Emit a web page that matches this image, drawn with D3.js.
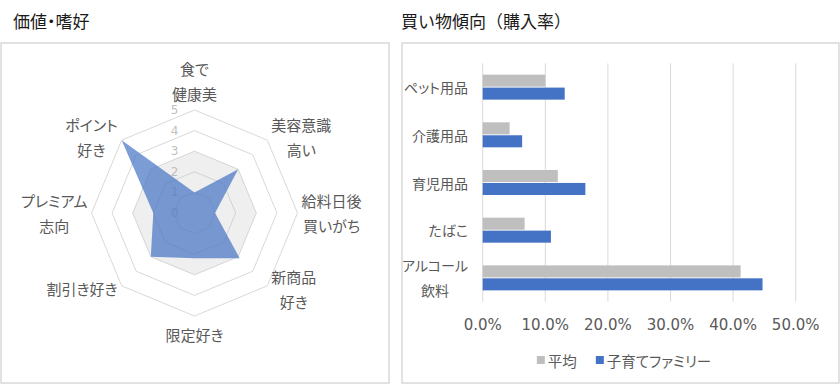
<!DOCTYPE html>
<html lang="ja">
  <head>
    <meta charset="utf-8">
    <title>価値・嗜好 / 買い物傾向</title>
    <script src="https://d3js.org/d3.v7.min.js"></script>
    <style>
      body {
        margin: 0;
        background-color: white;
      }
      svg {
        display: block;
        background-color: white;
      }
      text {
        font-family: "Noto Sans CJK JP", "Noto Sans", sans-serif;
        font-feature-settings: "palt";
      }
      .title {
        font-size: 17px;
        fill: #1a1a1a;
      }
      .title.full {
        font-feature-settings: normal;
      }
      .frame {
        fill: white;
        stroke: #d9d9d9;
        stroke-width: 1.5;
      }
      .ring {
        fill: none;
        stroke: #d9d9d9;
      }
      .ringlabel {
        font-family: "DejaVu Sans", sans-serif;
        font-size: 12px;
        fill: #bfbfbf;
      }
      .axislabel {
        font-size: 15px;
        fill: #595959;
      }
      .catlabel {
        font-size: 14px;
        fill: #595959;
      }
      .tick {
        font-family: "DejaVu Sans", sans-serif;
        font-size: 15px;
        fill: #595959;
      }
      .legend {
        font-size: 14.5px;
        fill: #595959;
      }
    </style>
  </head>
  <body>
    <script>
      // radar data
      var radarAxes = [["食で", "健康美"], ["美容意識", "高い"], ["給料日後", "買いがち"], ["新商品", "好き"],
                       ["限定好き"], ["割引き好き"], ["プレミアム", "志向"], ["ポイント", "好き"]];
      var radarFamily = [1.0, 3.0, 1.0, 3.1, 2.2, 3.0, 2.0, 5.0];
      var radarAvg = [3, 3, 3, 3, 3, 3, 3, 3];
      var radarLevels = [0, 1, 2, 3, 4, 5];

      // bar data
      var barCats = [["ペット用品"], ["介護用品"], ["育児用品"], ["たばこ"], ["アルコール", "飲料"]];
      var barAvg = [10.0, 4.3, 12.0, 6.7, 41.2];
      var barFamily = [13.1, 6.3, 16.4, 10.9, 44.7];
      var barTicks = [0, 10, 20, 30, 40, 50];
      var seriesNames = ["平均", "子育てファミリー"];
      var seriesColors = ["#bfbfbf", "#4472c4"];

      var w = 840, h = 385;
      var svg = d3.select("body").append("svg").attr("width", w).attr("height", h);

      // panels
      svg.append("rect").attr("class", "frame").attr("x", 1).attr("y", 43).attr("width", 388).attr("height", 340);
      svg.append("rect").attr("class", "frame").attr("x", 402).attr("y", 43).attr("width", 437).attr("height", 340);
      svg.append("text").attr("class", "title").attr("x", 13).attr("y", 28).text("価値・嗜好");
      svg.append("text").attr("class", "title full").attr("x", 401).attr("y", 28).text("買い物傾向（購入率）");

      // ---- radar ----
      var cx = 194.5, cy = 213, R = 103;
      var r = d3.scaleLinear().domain([0, 5]).range([0, R]);
      var n = radarAxes.length;
      var ang = d => d * 2 * Math.PI / n;
      var radial = d3.lineRadial().angle((d, i) => ang(i)).radius(d => r(d)).curve(d3.curveLinearClosed);

      var radar = svg.append("g").attr("transform", "translate(" + cx + "," + cy + ")");

      radar.selectAll("path.ring")
        .data(radarLevels.filter(l => l > 0))
        .enter().append("path")
        .attr("class", "ring")
        .attr("d", l => radial(d3.range(n).map(() => l)));

      radar.selectAll("text.ringlabel")
        .data(radarLevels)
        .enter().append("text")
        .attr("class", "ringlabel")
        .attr("x", -16)
        .attr("y", l => -r(l))
        .attr("text-anchor", "end")
        .attr("dominant-baseline", "central")
        .text(l => l);

      radar.append("path")
        .attr("d", radial(radarAvg))
        .attr("fill", "#bfbfbf")
        .attr("fill-opacity", 0.25);

      radar.append("path")
        .attr("d", radial(radarFamily))
        .attr("fill", "#4472c4")
        .attr("fill-opacity", 0.7);

      // axis labels
      var lineH = 25;
      radarAxes.forEach(function(lines, i) {
        var a = ang(i);
        var sx = Math.sin(a), sy = -Math.cos(a);
        var tx = sx * R, ty = sy * R;
        var g = radar.append("g");
        var texts = lines.map(function(t, k) {
          return g.append("text").attr("class", "axislabel")
            .attr("text-anchor", "middle")
            .attr("dominant-baseline", "central")
            .attr("y", (k - (lines.length - 1) / 2) * lineH)
            .text(t);
        });
        var bw = d3.max(texts, t => t.node().getComputedTextLength());
        var bh = lines.length * lineH;
        var bx, by;
        if (Math.abs(sx) > 0.1) {
          bx = sx > 0 ? tx + 4 + bw / 2 : tx - 4 - bw / 2;
          by = ty + (Math.abs(sy) > 0.1 ? sy * 4 : 0);
        } else {
          bx = tx;
          by = sy < 0 ? ty - 4 - bh / 2 : ty + 6 + bh / 2;
        }
        g.attr("transform", "translate(" + bx + "," + by + ")");
      });

      // ---- bars ----
      var x = d3.scaleLinear().domain([0, 50]).range([482.7, 795.7]);
      var y = d3.scaleBand().domain(d3.range(barCats.length)).range([63.3, 301.7]);
      var groupH = 25;
      var yi = d3.scaleBand().domain([0, 1]).range([0, groupH]).paddingInner(0.07);

      svg.append("g").selectAll("line")
        .data(barTicks)
        .enter().append("line")
        .attr("x1", d => x(d)).attr("x2", d => x(d))
        .attr("y1", y.range()[0]).attr("y2", y.range()[1])
        .attr("stroke", "#d9d9d9");

      svg.append("g").selectAll("text")
        .data(barTicks)
        .enter().append("text")
        .attr("class", "tick")
        .attr("x", d => x(d))
        .attr("y", 325)
        .attr("text-anchor", "middle")
        .attr("dominant-baseline", "central")
        .text(d => d.toFixed(1) + "%");

      [barAvg, barFamily].forEach(function(vals, s) {
        svg.append("g").selectAll("rect")
          .data(vals)
          .enter().append("rect")
          .attr("x", x(0))
          .attr("y", (d, i) => y(i) + (y.bandwidth() - groupH) / 2 + yi(s))
          .attr("width", d => x(d) - x(0))
          .attr("height", yi.bandwidth())
          .attr("fill", seriesColors[s]);
      });

      barCats.forEach(function(lines, i) {
        var g = svg.append("g");
        var texts = lines.map(function(t, k) {
          return g.append("text").attr("class", "catlabel")
            .attr("text-anchor", "middle")
            .attr("dominant-baseline", "central")
            .attr("y", (k - (lines.length - 1) / 2) * lineH)
            .text(t);
        });
        var bw = d3.max(texts, t => t.node().getComputedTextLength());
        g.attr("transform", "translate(" + (468 - bw / 2) + "," + (y(i) + y.bandwidth() / 2) + ")");
      });

      // legend
      var leg = svg.append("g");
      var lx = 0;
      seriesNames.forEach(function(name, s) {
        leg.append("rect").attr("x", lx).attr("y", -4).attr("width", 8).attr("height", 8).attr("fill", seriesColors[s]);
        var t = leg.append("text").attr("class", "legend")
          .attr("x", lx + 11).attr("dominant-baseline", "central").text(name);
        lx += 11 + t.node().getComputedTextLength() + 19;
      });
      var legW = lx - 19;
      leg.attr("transform", "translate(" + (624 - legW / 2) + ",360)");
    </script>
  </body>
</html>
